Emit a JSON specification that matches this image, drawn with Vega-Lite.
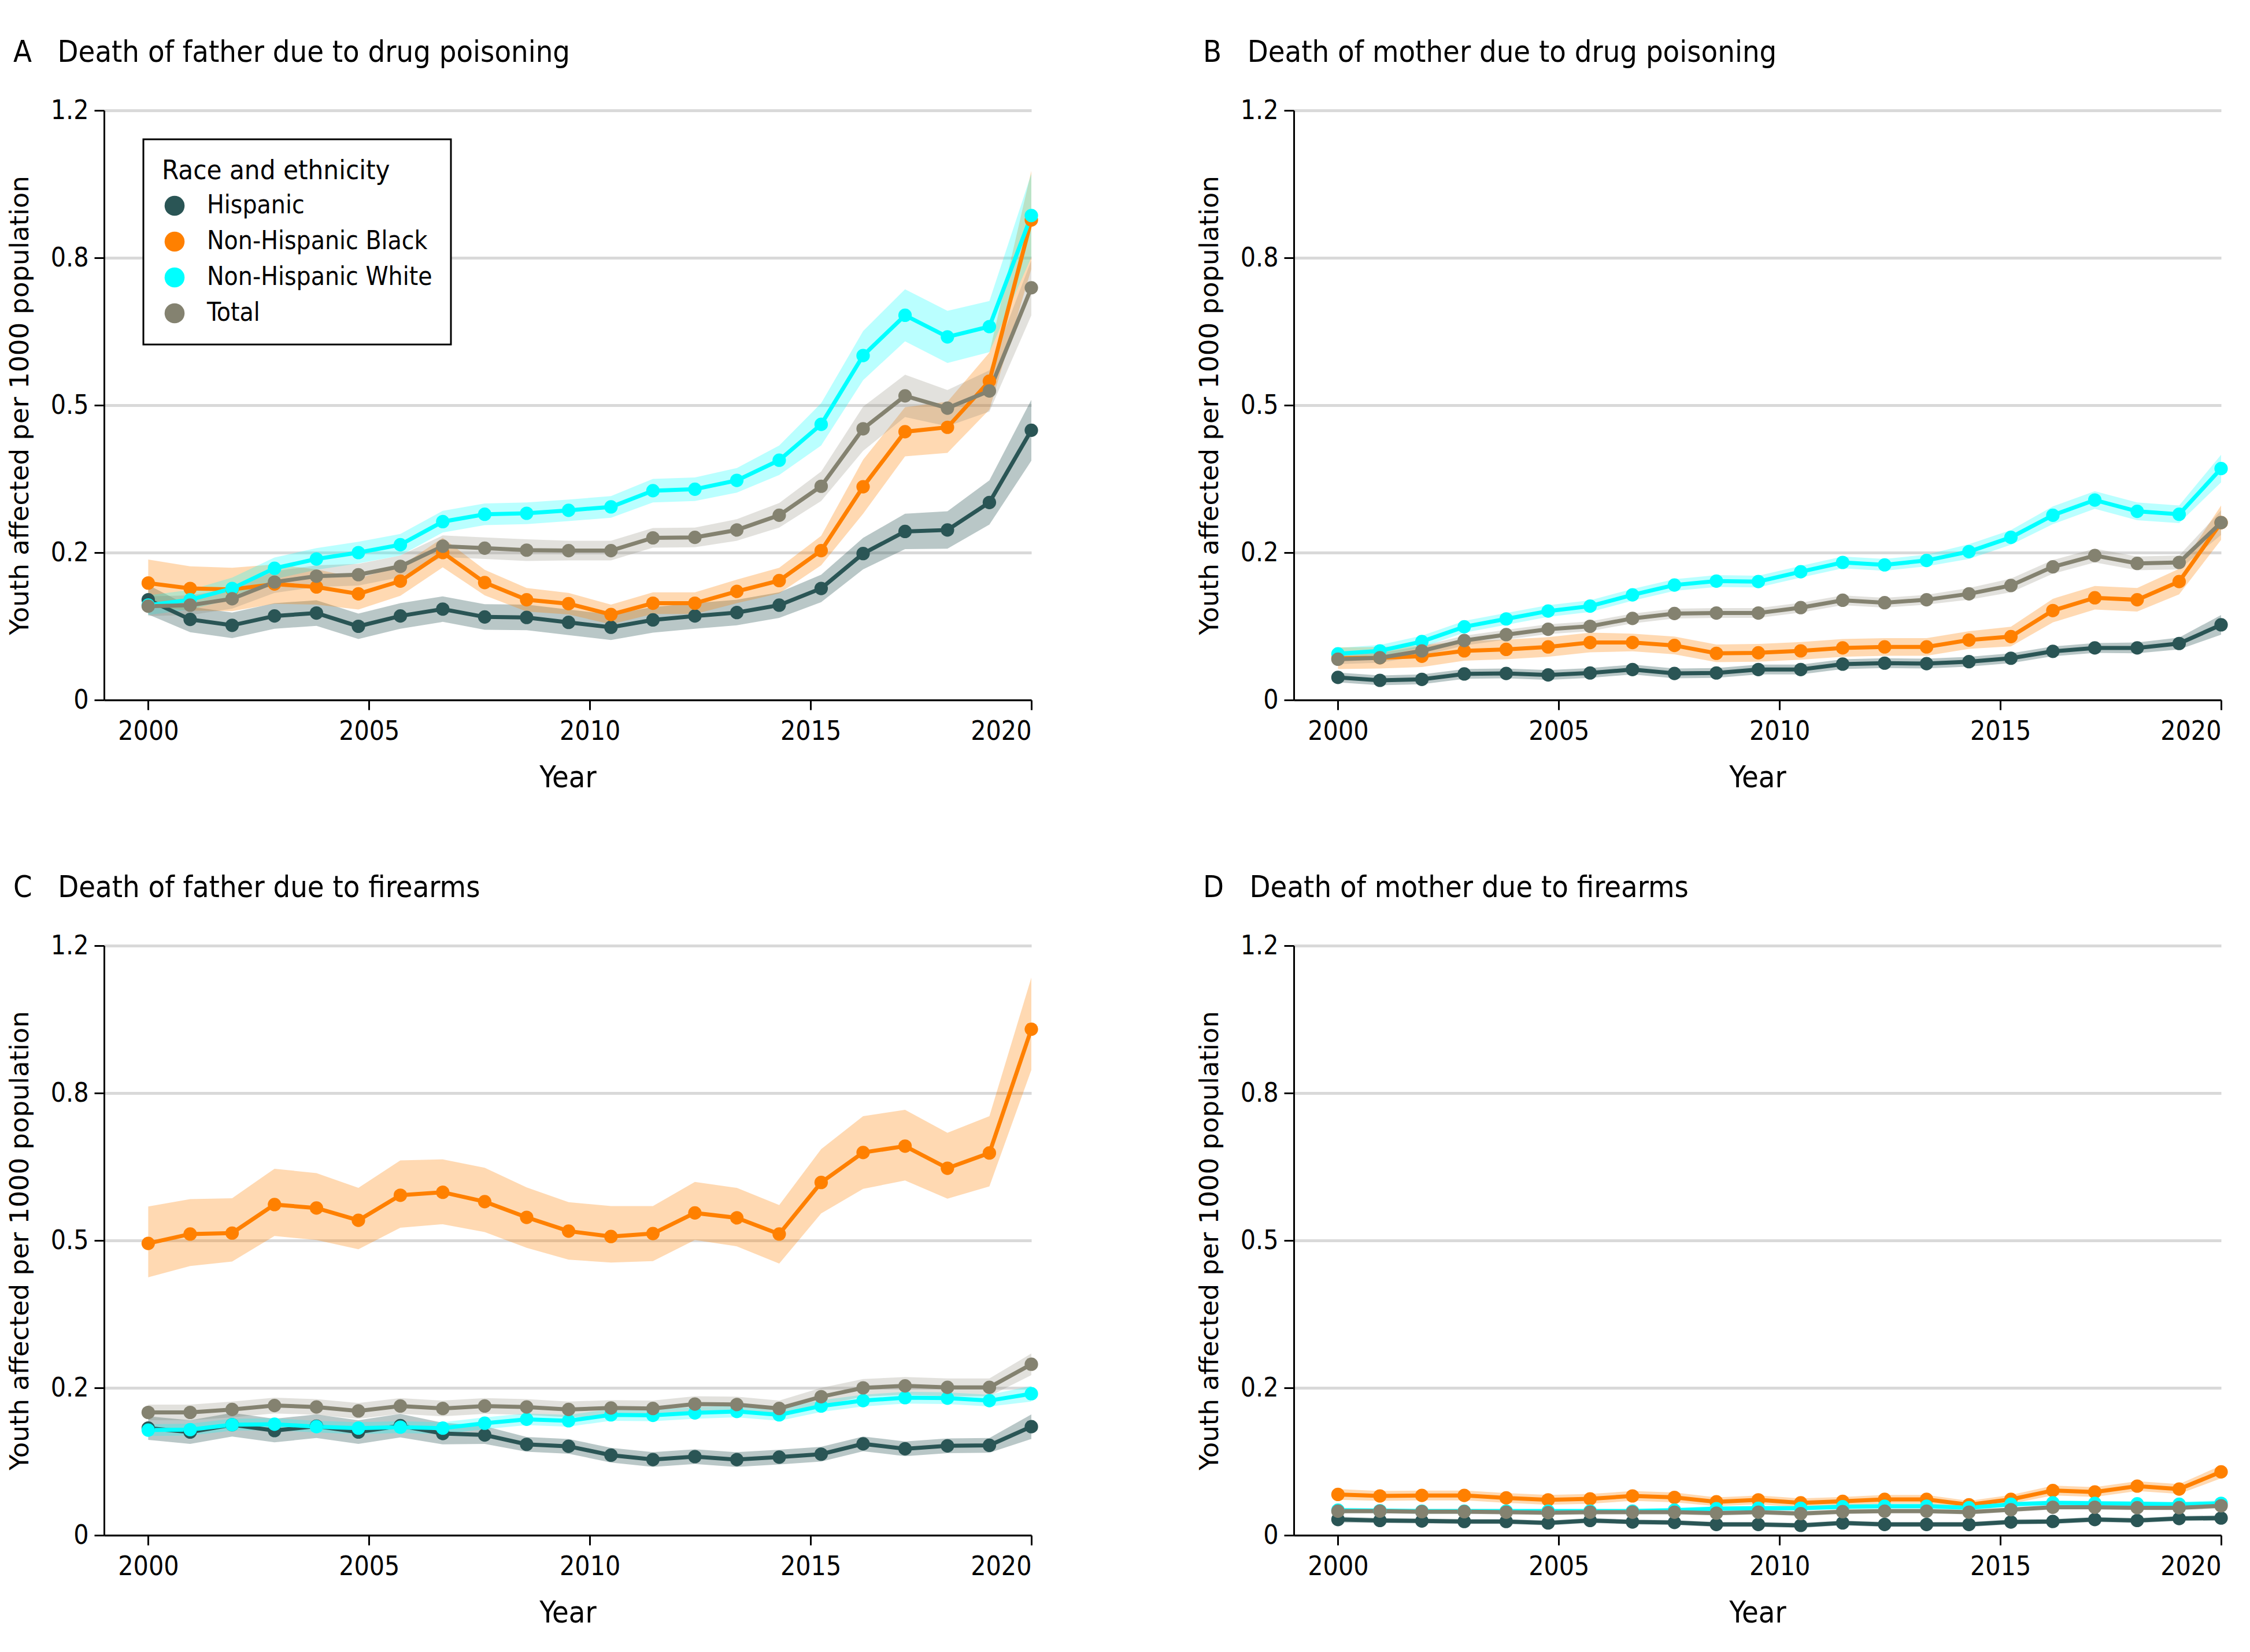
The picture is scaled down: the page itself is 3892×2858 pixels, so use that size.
{
"$schema": "https://vega.github.io/schema/vega-lite/v6.json",
"background": "white",
"padding": {"left": 12, "top": 65, "right": 10, "bottom": 10},
"config": {
 "font": "DejaVu Sans Condensed, Liberation Sans Narrow, sans-serif",
 "view": {"stroke": null},
 "legend": {"strokeWidth": 3},
 "axis": {"domainColor": "black", "domainWidth": 3, "tickColor": "black", "tickWidth": 3, "tickSize": 17, "labelFontSize": 46, "labelColor": "black", "labelPadding": 15, "titleColor": "black", "titleFontWeight": "normal", "gridColor": "#d9d9d9", "gridWidth": 5},
 "title": {"fontSize": 52, "fontWeight": "normal", "color": "black", "anchor": "start", "frame": "group"}
},
"data": {"values": [
{"p":"A","g":"Hispanic","x":2000,"v":0.204,"lo":0.174,"hi":0.234},
{"p":"A","g":"Hispanic","x":2000.95,"v":0.164,"lo":0.138,"hi":0.190},
{"p":"A","g":"Hispanic","x":2001.9,"v":0.152,"lo":0.126,"hi":0.178},
{"p":"A","g":"Hispanic","x":2002.86,"v":0.171,"lo":0.145,"hi":0.197},
{"p":"A","g":"Hispanic","x":2003.81,"v":0.177,"lo":0.151,"hi":0.203},
{"p":"A","g":"Hispanic","x":2004.76,"v":0.150,"lo":0.124,"hi":0.176},
{"p":"A","g":"Hispanic","x":2005.71,"v":0.171,"lo":0.145,"hi":0.197},
{"p":"A","g":"Hispanic","x":2006.67,"v":0.185,"lo":0.159,"hi":0.211},
{"p":"A","g":"Hispanic","x":2007.62,"v":0.169,"lo":0.143,"hi":0.195},
{"p":"A","g":"Hispanic","x":2008.57,"v":0.168,"lo":0.142,"hi":0.194},
{"p":"A","g":"Hispanic","x":2009.52,"v":0.158,"lo":0.132,"hi":0.184},
{"p":"A","g":"Hispanic","x":2010.48,"v":0.148,"lo":0.122,"hi":0.174},
{"p":"A","g":"Hispanic","x":2011.43,"v":0.163,"lo":0.137,"hi":0.189},
{"p":"A","g":"Hispanic","x":2012.38,"v":0.171,"lo":0.145,"hi":0.197},
{"p":"A","g":"Hispanic","x":2013.33,"v":0.178,"lo":0.152,"hi":0.204},
{"p":"A","g":"Hispanic","x":2014.29,"v":0.193,"lo":0.167,"hi":0.219},
{"p":"A","g":"Hispanic","x":2015.24,"v":0.227,"lo":0.199,"hi":0.255},
{"p":"A","g":"Hispanic","x":2016.19,"v":0.298,"lo":0.266,"hi":0.330},
{"p":"A","g":"Hispanic","x":2017.14,"v":0.343,"lo":0.307,"hi":0.379},
{"p":"A","g":"Hispanic","x":2018.1,"v":0.346,"lo":0.308,"hi":0.384},
{"p":"A","g":"Hispanic","x":2019.05,"v":0.402,"lo":0.357,"hi":0.447},
{"p":"A","g":"Hispanic","x":2020,"v":0.549,"lo":0.487,"hi":0.611},
{"p":"A","g":"Non-Hispanic Black","x":2000,"v":0.238,"lo":0.190,"hi":0.286},
{"p":"A","g":"Non-Hispanic Black","x":2000.95,"v":0.227,"lo":0.182,"hi":0.272},
{"p":"A","g":"Non-Hispanic Black","x":2001.9,"v":0.225,"lo":0.181,"hi":0.269},
{"p":"A","g":"Non-Hispanic Black","x":2002.86,"v":0.236,"lo":0.196,"hi":0.276},
{"p":"A","g":"Non-Hispanic Black","x":2003.81,"v":0.230,"lo":0.194,"hi":0.266},
{"p":"A","g":"Non-Hispanic Black","x":2004.76,"v":0.216,"lo":0.184,"hi":0.248},
{"p":"A","g":"Non-Hispanic Black","x":2005.71,"v":0.242,"lo":0.212,"hi":0.272},
{"p":"A","g":"Non-Hispanic Black","x":2006.67,"v":0.300,"lo":0.270,"hi":0.330},
{"p":"A","g":"Non-Hispanic Black","x":2007.62,"v":0.239,"lo":0.213,"hi":0.265},
{"p":"A","g":"Non-Hispanic Black","x":2008.57,"v":0.204,"lo":0.180,"hi":0.228},
{"p":"A","g":"Non-Hispanic Black","x":2009.52,"v":0.196,"lo":0.174,"hi":0.218},
{"p":"A","g":"Non-Hispanic Black","x":2010.48,"v":0.174,"lo":0.154,"hi":0.194},
{"p":"A","g":"Non-Hispanic Black","x":2011.43,"v":0.197,"lo":0.175,"hi":0.219},
{"p":"A","g":"Non-Hispanic Black","x":2012.38,"v":0.197,"lo":0.175,"hi":0.219},
{"p":"A","g":"Non-Hispanic Black","x":2013.33,"v":0.221,"lo":0.197,"hi":0.245},
{"p":"A","g":"Non-Hispanic Black","x":2014.29,"v":0.243,"lo":0.217,"hi":0.269},
{"p":"A","g":"Non-Hispanic Black","x":2015.24,"v":0.304,"lo":0.274,"hi":0.334},
{"p":"A","g":"Non-Hispanic Black","x":2016.19,"v":0.434,"lo":0.379,"hi":0.489},
{"p":"A","g":"Non-Hispanic Black","x":2017.14,"v":0.546,"lo":0.496,"hi":0.596},
{"p":"A","g":"Non-Hispanic Black","x":2018.1,"v":0.555,"lo":0.503,"hi":0.607},
{"p":"A","g":"Non-Hispanic Black","x":2019.05,"v":0.649,"lo":0.591,"hi":0.707},
{"p":"A","g":"Non-Hispanic Black","x":2020,"v":0.977,"lo":0.877,"hi":1.077},
{"p":"A","g":"Non-Hispanic White","x":2000,"v":0.193,"lo":0.173,"hi":0.213},
{"p":"A","g":"Non-Hispanic White","x":2000.95,"v":0.204,"lo":0.184,"hi":0.224},
{"p":"A","g":"Non-Hispanic White","x":2001.9,"v":0.227,"lo":0.205,"hi":0.249},
{"p":"A","g":"Non-Hispanic White","x":2002.86,"v":0.268,"lo":0.246,"hi":0.290},
{"p":"A","g":"Non-Hispanic White","x":2003.81,"v":0.287,"lo":0.265,"hi":0.309},
{"p":"A","g":"Non-Hispanic White","x":2004.76,"v":0.300,"lo":0.278,"hi":0.322},
{"p":"A","g":"Non-Hispanic White","x":2005.71,"v":0.316,"lo":0.294,"hi":0.338},
{"p":"A","g":"Non-Hispanic White","x":2006.67,"v":0.363,"lo":0.341,"hi":0.385},
{"p":"A","g":"Non-Hispanic White","x":2007.62,"v":0.378,"lo":0.356,"hi":0.400},
{"p":"A","g":"Non-Hispanic White","x":2008.57,"v":0.380,"lo":0.358,"hi":0.402},
{"p":"A","g":"Non-Hispanic White","x":2009.52,"v":0.386,"lo":0.364,"hi":0.408},
{"p":"A","g":"Non-Hispanic White","x":2010.48,"v":0.393,"lo":0.371,"hi":0.415},
{"p":"A","g":"Non-Hispanic White","x":2011.43,"v":0.426,"lo":0.402,"hi":0.450},
{"p":"A","g":"Non-Hispanic White","x":2012.38,"v":0.429,"lo":0.405,"hi":0.453},
{"p":"A","g":"Non-Hispanic White","x":2013.33,"v":0.447,"lo":0.422,"hi":0.472},
{"p":"A","g":"Non-Hispanic White","x":2014.29,"v":0.488,"lo":0.458,"hi":0.518},
{"p":"A","g":"Non-Hispanic White","x":2015.24,"v":0.561,"lo":0.518,"hi":0.604},
{"p":"A","g":"Non-Hispanic White","x":2016.19,"v":0.701,"lo":0.651,"hi":0.751},
{"p":"A","g":"Non-Hispanic White","x":2017.14,"v":0.783,"lo":0.730,"hi":0.836},
{"p":"A","g":"Non-Hispanic White","x":2018.1,"v":0.739,"lo":0.686,"hi":0.792},
{"p":"A","g":"Non-Hispanic White","x":2019.05,"v":0.760,"lo":0.708,"hi":0.812},
{"p":"A","g":"Non-Hispanic White","x":2020,"v":0.986,"lo":0.901,"hi":1.071},
{"p":"A","g":"Total","x":2000,"v":0.191,"lo":0.171,"hi":0.211},
{"p":"A","g":"Total","x":2000.95,"v":0.193,"lo":0.173,"hi":0.213},
{"p":"A","g":"Total","x":2001.9,"v":0.206,"lo":0.186,"hi":0.226},
{"p":"A","g":"Total","x":2002.86,"v":0.240,"lo":0.218,"hi":0.262},
{"p":"A","g":"Total","x":2003.81,"v":0.252,"lo":0.230,"hi":0.274},
{"p":"A","g":"Total","x":2004.76,"v":0.255,"lo":0.233,"hi":0.277},
{"p":"A","g":"Total","x":2005.71,"v":0.272,"lo":0.250,"hi":0.294},
{"p":"A","g":"Total","x":2006.67,"v":0.313,"lo":0.291,"hi":0.335},
{"p":"A","g":"Total","x":2007.62,"v":0.309,"lo":0.287,"hi":0.331},
{"p":"A","g":"Total","x":2008.57,"v":0.305,"lo":0.283,"hi":0.327},
{"p":"A","g":"Total","x":2009.52,"v":0.304,"lo":0.284,"hi":0.324},
{"p":"A","g":"Total","x":2010.48,"v":0.304,"lo":0.284,"hi":0.324},
{"p":"A","g":"Total","x":2011.43,"v":0.330,"lo":0.310,"hi":0.350},
{"p":"A","g":"Total","x":2012.38,"v":0.331,"lo":0.311,"hi":0.351},
{"p":"A","g":"Total","x":2013.33,"v":0.346,"lo":0.324,"hi":0.368},
{"p":"A","g":"Total","x":2014.29,"v":0.376,"lo":0.351,"hi":0.401},
{"p":"A","g":"Total","x":2015.24,"v":0.435,"lo":0.405,"hi":0.465},
{"p":"A","g":"Total","x":2016.19,"v":0.552,"lo":0.507,"hi":0.597},
{"p":"A","g":"Total","x":2017.14,"v":0.619,"lo":0.576,"hi":0.662},
{"p":"A","g":"Total","x":2018.1,"v":0.594,"lo":0.557,"hi":0.631},
{"p":"A","g":"Total","x":2019.05,"v":0.629,"lo":0.587,"hi":0.671},
{"p":"A","g":"Total","x":2020,"v":0.839,"lo":0.783,"hi":0.895},
{"p":"B","g":"Hispanic","x":2000,"v":0.046,"lo":0.036,"hi":0.056},
{"p":"B","g":"Hispanic","x":2000.95,"v":0.040,"lo":0.030,"hi":0.050},
{"p":"B","g":"Hispanic","x":2001.9,"v":0.042,"lo":0.032,"hi":0.052},
{"p":"B","g":"Hispanic","x":2002.86,"v":0.053,"lo":0.043,"hi":0.063},
{"p":"B","g":"Hispanic","x":2003.81,"v":0.054,"lo":0.044,"hi":0.064},
{"p":"B","g":"Hispanic","x":2004.76,"v":0.051,"lo":0.041,"hi":0.061},
{"p":"B","g":"Hispanic","x":2005.71,"v":0.055,"lo":0.045,"hi":0.065},
{"p":"B","g":"Hispanic","x":2006.67,"v":0.062,"lo":0.052,"hi":0.072},
{"p":"B","g":"Hispanic","x":2007.62,"v":0.054,"lo":0.044,"hi":0.064},
{"p":"B","g":"Hispanic","x":2008.57,"v":0.055,"lo":0.045,"hi":0.065},
{"p":"B","g":"Hispanic","x":2009.52,"v":0.062,"lo":0.052,"hi":0.072},
{"p":"B","g":"Hispanic","x":2010.48,"v":0.062,"lo":0.052,"hi":0.072},
{"p":"B","g":"Hispanic","x":2011.43,"v":0.073,"lo":0.063,"hi":0.083},
{"p":"B","g":"Hispanic","x":2012.38,"v":0.075,"lo":0.065,"hi":0.085},
{"p":"B","g":"Hispanic","x":2013.33,"v":0.074,"lo":0.064,"hi":0.084},
{"p":"B","g":"Hispanic","x":2014.29,"v":0.078,"lo":0.068,"hi":0.088},
{"p":"B","g":"Hispanic","x":2015.24,"v":0.085,"lo":0.075,"hi":0.095},
{"p":"B","g":"Hispanic","x":2016.19,"v":0.099,"lo":0.089,"hi":0.109},
{"p":"B","g":"Hispanic","x":2017.14,"v":0.106,"lo":0.096,"hi":0.116},
{"p":"B","g":"Hispanic","x":2018.1,"v":0.106,"lo":0.095,"hi":0.117},
{"p":"B","g":"Hispanic","x":2019.05,"v":0.115,"lo":0.103,"hi":0.127},
{"p":"B","g":"Hispanic","x":2020,"v":0.153,"lo":0.133,"hi":0.173},
{"p":"B","g":"Non-Hispanic Black","x":2000,"v":0.085,"lo":0.063,"hi":0.107},
{"p":"B","g":"Non-Hispanic Black","x":2000.95,"v":0.086,"lo":0.064,"hi":0.108},
{"p":"B","g":"Non-Hispanic Black","x":2001.9,"v":0.089,"lo":0.067,"hi":0.111},
{"p":"B","g":"Non-Hispanic Black","x":2002.86,"v":0.100,"lo":0.080,"hi":0.120},
{"p":"B","g":"Non-Hispanic Black","x":2003.81,"v":0.103,"lo":0.083,"hi":0.123},
{"p":"B","g":"Non-Hispanic Black","x":2004.76,"v":0.108,"lo":0.088,"hi":0.128},
{"p":"B","g":"Non-Hispanic Black","x":2005.71,"v":0.117,"lo":0.097,"hi":0.137},
{"p":"B","g":"Non-Hispanic Black","x":2006.67,"v":0.117,"lo":0.099,"hi":0.135},
{"p":"B","g":"Non-Hispanic Black","x":2007.62,"v":0.111,"lo":0.093,"hi":0.129},
{"p":"B","g":"Non-Hispanic Black","x":2008.57,"v":0.095,"lo":0.077,"hi":0.113},
{"p":"B","g":"Non-Hispanic Black","x":2009.52,"v":0.096,"lo":0.078,"hi":0.114},
{"p":"B","g":"Non-Hispanic Black","x":2010.48,"v":0.100,"lo":0.082,"hi":0.118},
{"p":"B","g":"Non-Hispanic Black","x":2011.43,"v":0.106,"lo":0.088,"hi":0.124},
{"p":"B","g":"Non-Hispanic Black","x":2012.38,"v":0.108,"lo":0.090,"hi":0.126},
{"p":"B","g":"Non-Hispanic Black","x":2013.33,"v":0.108,"lo":0.090,"hi":0.126},
{"p":"B","g":"Non-Hispanic Black","x":2014.29,"v":0.122,"lo":0.104,"hi":0.140},
{"p":"B","g":"Non-Hispanic Black","x":2015.24,"v":0.129,"lo":0.109,"hi":0.149},
{"p":"B","g":"Non-Hispanic Black","x":2016.19,"v":0.182,"lo":0.158,"hi":0.206},
{"p":"B","g":"Non-Hispanic Black","x":2017.14,"v":0.208,"lo":0.184,"hi":0.232},
{"p":"B","g":"Non-Hispanic Black","x":2018.1,"v":0.204,"lo":0.180,"hi":0.228},
{"p":"B","g":"Non-Hispanic Black","x":2019.05,"v":0.241,"lo":0.215,"hi":0.267},
{"p":"B","g":"Non-Hispanic Black","x":2020,"v":0.361,"lo":0.326,"hi":0.396},
{"p":"B","g":"Non-Hispanic White","x":2000,"v":0.094,"lo":0.082,"hi":0.106},
{"p":"B","g":"Non-Hispanic White","x":2000.95,"v":0.100,"lo":0.088,"hi":0.112},
{"p":"B","g":"Non-Hispanic White","x":2001.9,"v":0.119,"lo":0.107,"hi":0.131},
{"p":"B","g":"Non-Hispanic White","x":2002.86,"v":0.149,"lo":0.137,"hi":0.161},
{"p":"B","g":"Non-Hispanic White","x":2003.81,"v":0.165,"lo":0.153,"hi":0.177},
{"p":"B","g":"Non-Hispanic White","x":2004.76,"v":0.181,"lo":0.169,"hi":0.193},
{"p":"B","g":"Non-Hispanic White","x":2005.71,"v":0.191,"lo":0.179,"hi":0.203},
{"p":"B","g":"Non-Hispanic White","x":2006.67,"v":0.214,"lo":0.202,"hi":0.226},
{"p":"B","g":"Non-Hispanic White","x":2007.62,"v":0.234,"lo":0.222,"hi":0.246},
{"p":"B","g":"Non-Hispanic White","x":2008.57,"v":0.242,"lo":0.230,"hi":0.254},
{"p":"B","g":"Non-Hispanic White","x":2009.52,"v":0.241,"lo":0.229,"hi":0.253},
{"p":"B","g":"Non-Hispanic White","x":2010.48,"v":0.261,"lo":0.249,"hi":0.273},
{"p":"B","g":"Non-Hispanic White","x":2011.43,"v":0.280,"lo":0.268,"hi":0.292},
{"p":"B","g":"Non-Hispanic White","x":2012.38,"v":0.275,"lo":0.263,"hi":0.287},
{"p":"B","g":"Non-Hispanic White","x":2013.33,"v":0.284,"lo":0.272,"hi":0.296},
{"p":"B","g":"Non-Hispanic White","x":2014.29,"v":0.302,"lo":0.287,"hi":0.317},
{"p":"B","g":"Non-Hispanic White","x":2015.24,"v":0.331,"lo":0.316,"hi":0.346},
{"p":"B","g":"Non-Hispanic White","x":2016.19,"v":0.376,"lo":0.358,"hi":0.394},
{"p":"B","g":"Non-Hispanic White","x":2017.14,"v":0.407,"lo":0.389,"hi":0.425},
{"p":"B","g":"Non-Hispanic White","x":2018.1,"v":0.384,"lo":0.366,"hi":0.402},
{"p":"B","g":"Non-Hispanic White","x":2019.05,"v":0.378,"lo":0.360,"hi":0.396},
{"p":"B","g":"Non-Hispanic White","x":2020,"v":0.471,"lo":0.443,"hi":0.499},
{"p":"B","g":"Total","x":2000,"v":0.083,"lo":0.073,"hi":0.093},
{"p":"B","g":"Total","x":2000.95,"v":0.086,"lo":0.076,"hi":0.096},
{"p":"B","g":"Total","x":2001.9,"v":0.100,"lo":0.090,"hi":0.110},
{"p":"B","g":"Total","x":2002.86,"v":0.121,"lo":0.111,"hi":0.131},
{"p":"B","g":"Total","x":2003.81,"v":0.133,"lo":0.123,"hi":0.143},
{"p":"B","g":"Total","x":2004.76,"v":0.144,"lo":0.134,"hi":0.154},
{"p":"B","g":"Total","x":2005.71,"v":0.150,"lo":0.140,"hi":0.160},
{"p":"B","g":"Total","x":2006.67,"v":0.166,"lo":0.156,"hi":0.176},
{"p":"B","g":"Total","x":2007.62,"v":0.176,"lo":0.166,"hi":0.186},
{"p":"B","g":"Total","x":2008.57,"v":0.177,"lo":0.167,"hi":0.187},
{"p":"B","g":"Total","x":2009.52,"v":0.177,"lo":0.167,"hi":0.187},
{"p":"B","g":"Total","x":2010.48,"v":0.188,"lo":0.178,"hi":0.198},
{"p":"B","g":"Total","x":2011.43,"v":0.203,"lo":0.193,"hi":0.213},
{"p":"B","g":"Total","x":2012.38,"v":0.198,"lo":0.188,"hi":0.208},
{"p":"B","g":"Total","x":2013.33,"v":0.204,"lo":0.194,"hi":0.214},
{"p":"B","g":"Total","x":2014.29,"v":0.216,"lo":0.204,"hi":0.228},
{"p":"B","g":"Total","x":2015.24,"v":0.233,"lo":0.219,"hi":0.247},
{"p":"B","g":"Total","x":2016.19,"v":0.271,"lo":0.257,"hi":0.285},
{"p":"B","g":"Total","x":2017.14,"v":0.294,"lo":0.280,"hi":0.308},
{"p":"B","g":"Total","x":2018.1,"v":0.278,"lo":0.264,"hi":0.292},
{"p":"B","g":"Total","x":2019.05,"v":0.280,"lo":0.266,"hi":0.294},
{"p":"B","g":"Total","x":2020,"v":0.361,"lo":0.336,"hi":0.386},
{"p":"C","g":"Hispanic","x":2000,"v":0.218,"lo":0.194,"hi":0.242},
{"p":"C","g":"Hispanic","x":2000.95,"v":0.210,"lo":0.186,"hi":0.234},
{"p":"C","g":"Hispanic","x":2001.9,"v":0.225,"lo":0.201,"hi":0.249},
{"p":"C","g":"Hispanic","x":2002.86,"v":0.213,"lo":0.189,"hi":0.237},
{"p":"C","g":"Hispanic","x":2003.81,"v":0.222,"lo":0.198,"hi":0.246},
{"p":"C","g":"Hispanic","x":2004.76,"v":0.210,"lo":0.186,"hi":0.234},
{"p":"C","g":"Hispanic","x":2005.71,"v":0.223,"lo":0.199,"hi":0.247},
{"p":"C","g":"Hispanic","x":2006.67,"v":0.207,"lo":0.185,"hi":0.229},
{"p":"C","g":"Hispanic","x":2007.62,"v":0.204,"lo":0.186,"hi":0.222},
{"p":"C","g":"Hispanic","x":2008.57,"v":0.185,"lo":0.170,"hi":0.200},
{"p":"C","g":"Hispanic","x":2009.52,"v":0.181,"lo":0.166,"hi":0.196},
{"p":"C","g":"Hispanic","x":2010.48,"v":0.163,"lo":0.148,"hi":0.178},
{"p":"C","g":"Hispanic","x":2011.43,"v":0.154,"lo":0.139,"hi":0.169},
{"p":"C","g":"Hispanic","x":2012.38,"v":0.160,"lo":0.145,"hi":0.175},
{"p":"C","g":"Hispanic","x":2013.33,"v":0.154,"lo":0.139,"hi":0.169},
{"p":"C","g":"Hispanic","x":2014.29,"v":0.159,"lo":0.144,"hi":0.174},
{"p":"C","g":"Hispanic","x":2015.24,"v":0.165,"lo":0.150,"hi":0.180},
{"p":"C","g":"Hispanic","x":2016.19,"v":0.186,"lo":0.171,"hi":0.201},
{"p":"C","g":"Hispanic","x":2017.14,"v":0.176,"lo":0.161,"hi":0.191},
{"p":"C","g":"Hispanic","x":2018.1,"v":0.182,"lo":0.167,"hi":0.197},
{"p":"C","g":"Hispanic","x":2019.05,"v":0.183,"lo":0.168,"hi":0.198},
{"p":"C","g":"Hispanic","x":2020,"v":0.221,"lo":0.196,"hi":0.246},
{"p":"C","g":"Non-Hispanic Black","x":2000,"v":0.594,"lo":0.525,"hi":0.669},
{"p":"C","g":"Non-Hispanic Black","x":2000.95,"v":0.613,"lo":0.548,"hi":0.684},
{"p":"C","g":"Non-Hispanic Black","x":2001.9,"v":0.615,"lo":0.557,"hi":0.686},
{"p":"C","g":"Non-Hispanic Black","x":2002.86,"v":0.673,"lo":0.609,"hi":0.746},
{"p":"C","g":"Non-Hispanic Black","x":2003.81,"v":0.666,"lo":0.601,"hi":0.737},
{"p":"C","g":"Non-Hispanic Black","x":2004.76,"v":0.641,"lo":0.582,"hi":0.707},
{"p":"C","g":"Non-Hispanic Black","x":2005.71,"v":0.692,"lo":0.626,"hi":0.763},
{"p":"C","g":"Non-Hispanic Black","x":2006.67,"v":0.698,"lo":0.633,"hi":0.765},
{"p":"C","g":"Non-Hispanic Black","x":2007.62,"v":0.679,"lo":0.617,"hi":0.748},
{"p":"C","g":"Non-Hispanic Black","x":2008.57,"v":0.647,"lo":0.585,"hi":0.708},
{"p":"C","g":"Non-Hispanic Black","x":2009.52,"v":0.619,"lo":0.561,"hi":0.678},
{"p":"C","g":"Non-Hispanic Black","x":2010.48,"v":0.608,"lo":0.555,"hi":0.670},
{"p":"C","g":"Non-Hispanic Black","x":2011.43,"v":0.614,"lo":0.558,"hi":0.670},
{"p":"C","g":"Non-Hispanic Black","x":2012.38,"v":0.656,"lo":0.601,"hi":0.719},
{"p":"C","g":"Non-Hispanic Black","x":2013.33,"v":0.646,"lo":0.588,"hi":0.707},
{"p":"C","g":"Non-Hispanic Black","x":2014.29,"v":0.613,"lo":0.553,"hi":0.672},
{"p":"C","g":"Non-Hispanic Black","x":2015.24,"v":0.718,"lo":0.655,"hi":0.786},
{"p":"C","g":"Non-Hispanic Black","x":2016.19,"v":0.779,"lo":0.705,"hi":0.853},
{"p":"C","g":"Non-Hispanic Black","x":2017.14,"v":0.792,"lo":0.722,"hi":0.866},
{"p":"C","g":"Non-Hispanic Black","x":2018.1,"v":0.747,"lo":0.685,"hi":0.819},
{"p":"C","g":"Non-Hispanic Black","x":2019.05,"v":0.778,"lo":0.710,"hi":0.853},
{"p":"C","g":"Non-Hispanic Black","x":2020,"v":1.030,"lo":0.947,"hi":1.135},
{"p":"C","g":"Non-Hispanic White","x":2000,"v":0.214,"lo":0.202,"hi":0.226},
{"p":"C","g":"Non-Hispanic White","x":2000.95,"v":0.215,"lo":0.203,"hi":0.227},
{"p":"C","g":"Non-Hispanic White","x":2001.9,"v":0.225,"lo":0.213,"hi":0.237},
{"p":"C","g":"Non-Hispanic White","x":2002.86,"v":0.226,"lo":0.214,"hi":0.238},
{"p":"C","g":"Non-Hispanic White","x":2003.81,"v":0.221,"lo":0.209,"hi":0.233},
{"p":"C","g":"Non-Hispanic White","x":2004.76,"v":0.218,"lo":0.206,"hi":0.230},
{"p":"C","g":"Non-Hispanic White","x":2005.71,"v":0.220,"lo":0.208,"hi":0.232},
{"p":"C","g":"Non-Hispanic White","x":2006.67,"v":0.218,"lo":0.206,"hi":0.230},
{"p":"C","g":"Non-Hispanic White","x":2007.62,"v":0.228,"lo":0.216,"hi":0.240},
{"p":"C","g":"Non-Hispanic White","x":2008.57,"v":0.236,"lo":0.224,"hi":0.248},
{"p":"C","g":"Non-Hispanic White","x":2009.52,"v":0.233,"lo":0.221,"hi":0.245},
{"p":"C","g":"Non-Hispanic White","x":2010.48,"v":0.245,"lo":0.233,"hi":0.257},
{"p":"C","g":"Non-Hispanic White","x":2011.43,"v":0.244,"lo":0.232,"hi":0.256},
{"p":"C","g":"Non-Hispanic White","x":2012.38,"v":0.249,"lo":0.237,"hi":0.261},
{"p":"C","g":"Non-Hispanic White","x":2013.33,"v":0.252,"lo":0.240,"hi":0.264},
{"p":"C","g":"Non-Hispanic White","x":2014.29,"v":0.245,"lo":0.233,"hi":0.257},
{"p":"C","g":"Non-Hispanic White","x":2015.24,"v":0.263,"lo":0.251,"hi":0.275},
{"p":"C","g":"Non-Hispanic White","x":2016.19,"v":0.274,"lo":0.262,"hi":0.286},
{"p":"C","g":"Non-Hispanic White","x":2017.14,"v":0.280,"lo":0.268,"hi":0.292},
{"p":"C","g":"Non-Hispanic White","x":2018.1,"v":0.279,"lo":0.267,"hi":0.291},
{"p":"C","g":"Non-Hispanic White","x":2019.05,"v":0.274,"lo":0.262,"hi":0.286},
{"p":"C","g":"Non-Hispanic White","x":2020,"v":0.288,"lo":0.272,"hi":0.304},
{"p":"C","g":"Total","x":2000,"v":0.250,"lo":0.234,"hi":0.266},
{"p":"C","g":"Total","x":2000.95,"v":0.250,"lo":0.234,"hi":0.266},
{"p":"C","g":"Total","x":2001.9,"v":0.256,"lo":0.240,"hi":0.272},
{"p":"C","g":"Total","x":2002.86,"v":0.264,"lo":0.248,"hi":0.280},
{"p":"C","g":"Total","x":2003.81,"v":0.261,"lo":0.245,"hi":0.277},
{"p":"C","g":"Total","x":2004.76,"v":0.253,"lo":0.237,"hi":0.269},
{"p":"C","g":"Total","x":2005.71,"v":0.263,"lo":0.247,"hi":0.279},
{"p":"C","g":"Total","x":2006.67,"v":0.258,"lo":0.242,"hi":0.274},
{"p":"C","g":"Total","x":2007.62,"v":0.263,"lo":0.247,"hi":0.279},
{"p":"C","g":"Total","x":2008.57,"v":0.261,"lo":0.245,"hi":0.277},
{"p":"C","g":"Total","x":2009.52,"v":0.256,"lo":0.240,"hi":0.272},
{"p":"C","g":"Total","x":2010.48,"v":0.259,"lo":0.243,"hi":0.275},
{"p":"C","g":"Total","x":2011.43,"v":0.258,"lo":0.242,"hi":0.274},
{"p":"C","g":"Total","x":2012.38,"v":0.267,"lo":0.251,"hi":0.283},
{"p":"C","g":"Total","x":2013.33,"v":0.266,"lo":0.250,"hi":0.282},
{"p":"C","g":"Total","x":2014.29,"v":0.258,"lo":0.242,"hi":0.274},
{"p":"C","g":"Total","x":2015.24,"v":0.282,"lo":0.264,"hi":0.300},
{"p":"C","g":"Total","x":2016.19,"v":0.300,"lo":0.282,"hi":0.318},
{"p":"C","g":"Total","x":2017.14,"v":0.304,"lo":0.286,"hi":0.322},
{"p":"C","g":"Total","x":2018.1,"v":0.301,"lo":0.283,"hi":0.319},
{"p":"C","g":"Total","x":2019.05,"v":0.301,"lo":0.283,"hi":0.319},
{"p":"C","g":"Total","x":2020,"v":0.348,"lo":0.326,"hi":0.370},
{"p":"D","g":"Hispanic","x":2000,"v":0.032,"lo":0.026,"hi":0.038},
{"p":"D","g":"Hispanic","x":2000.95,"v":0.030,"lo":0.025,"hi":0.035},
{"p":"D","g":"Hispanic","x":2001.9,"v":0.029,"lo":0.024,"hi":0.034},
{"p":"D","g":"Hispanic","x":2002.86,"v":0.028,"lo":0.023,"hi":0.033},
{"p":"D","g":"Hispanic","x":2003.81,"v":0.028,"lo":0.023,"hi":0.033},
{"p":"D","g":"Hispanic","x":2004.76,"v":0.025,"lo":0.020,"hi":0.030},
{"p":"D","g":"Hispanic","x":2005.71,"v":0.030,"lo":0.025,"hi":0.035},
{"p":"D","g":"Hispanic","x":2006.67,"v":0.027,"lo":0.022,"hi":0.032},
{"p":"D","g":"Hispanic","x":2007.62,"v":0.026,"lo":0.021,"hi":0.031},
{"p":"D","g":"Hispanic","x":2008.57,"v":0.022,"lo":0.017,"hi":0.027},
{"p":"D","g":"Hispanic","x":2009.52,"v":0.022,"lo":0.017,"hi":0.027},
{"p":"D","g":"Hispanic","x":2010.48,"v":0.020,"lo":0.015,"hi":0.025},
{"p":"D","g":"Hispanic","x":2011.43,"v":0.025,"lo":0.020,"hi":0.030},
{"p":"D","g":"Hispanic","x":2012.38,"v":0.022,"lo":0.017,"hi":0.027},
{"p":"D","g":"Hispanic","x":2013.33,"v":0.022,"lo":0.017,"hi":0.027},
{"p":"D","g":"Hispanic","x":2014.29,"v":0.022,"lo":0.017,"hi":0.027},
{"p":"D","g":"Hispanic","x":2015.24,"v":0.027,"lo":0.022,"hi":0.032},
{"p":"D","g":"Hispanic","x":2016.19,"v":0.028,"lo":0.023,"hi":0.033},
{"p":"D","g":"Hispanic","x":2017.14,"v":0.032,"lo":0.027,"hi":0.037},
{"p":"D","g":"Hispanic","x":2018.1,"v":0.030,"lo":0.025,"hi":0.035},
{"p":"D","g":"Hispanic","x":2019.05,"v":0.034,"lo":0.029,"hi":0.039},
{"p":"D","g":"Hispanic","x":2020,"v":0.035,"lo":0.029,"hi":0.041},
{"p":"D","g":"Non-Hispanic Black","x":2000,"v":0.083,"lo":0.072,"hi":0.094},
{"p":"D","g":"Non-Hispanic Black","x":2000.95,"v":0.080,"lo":0.070,"hi":0.090},
{"p":"D","g":"Non-Hispanic Black","x":2001.9,"v":0.081,"lo":0.071,"hi":0.091},
{"p":"D","g":"Non-Hispanic Black","x":2002.86,"v":0.081,"lo":0.071,"hi":0.091},
{"p":"D","g":"Non-Hispanic Black","x":2003.81,"v":0.076,"lo":0.066,"hi":0.086},
{"p":"D","g":"Non-Hispanic Black","x":2004.76,"v":0.072,"lo":0.062,"hi":0.082},
{"p":"D","g":"Non-Hispanic Black","x":2005.71,"v":0.074,"lo":0.064,"hi":0.084},
{"p":"D","g":"Non-Hispanic Black","x":2006.67,"v":0.080,"lo":0.070,"hi":0.090},
{"p":"D","g":"Non-Hispanic Black","x":2007.62,"v":0.077,"lo":0.067,"hi":0.087},
{"p":"D","g":"Non-Hispanic Black","x":2008.57,"v":0.068,"lo":0.059,"hi":0.077},
{"p":"D","g":"Non-Hispanic Black","x":2009.52,"v":0.072,"lo":0.063,"hi":0.081},
{"p":"D","g":"Non-Hispanic Black","x":2010.48,"v":0.066,"lo":0.057,"hi":0.075},
{"p":"D","g":"Non-Hispanic Black","x":2011.43,"v":0.069,"lo":0.060,"hi":0.078},
{"p":"D","g":"Non-Hispanic Black","x":2012.38,"v":0.073,"lo":0.064,"hi":0.082},
{"p":"D","g":"Non-Hispanic Black","x":2013.33,"v":0.073,"lo":0.064,"hi":0.082},
{"p":"D","g":"Non-Hispanic Black","x":2014.29,"v":0.062,"lo":0.054,"hi":0.070},
{"p":"D","g":"Non-Hispanic Black","x":2015.24,"v":0.073,"lo":0.064,"hi":0.082},
{"p":"D","g":"Non-Hispanic Black","x":2016.19,"v":0.091,"lo":0.081,"hi":0.101},
{"p":"D","g":"Non-Hispanic Black","x":2017.14,"v":0.088,"lo":0.078,"hi":0.098},
{"p":"D","g":"Non-Hispanic Black","x":2018.1,"v":0.100,"lo":0.090,"hi":0.110},
{"p":"D","g":"Non-Hispanic Black","x":2019.05,"v":0.094,"lo":0.084,"hi":0.104},
{"p":"D","g":"Non-Hispanic Black","x":2020,"v":0.129,"lo":0.116,"hi":0.142},
{"p":"D","g":"Non-Hispanic White","x":2000,"v":0.051,"lo":0.046,"hi":0.056},
{"p":"D","g":"Non-Hispanic White","x":2000.95,"v":0.050,"lo":0.045,"hi":0.055},
{"p":"D","g":"Non-Hispanic White","x":2001.9,"v":0.049,"lo":0.044,"hi":0.054},
{"p":"D","g":"Non-Hispanic White","x":2002.86,"v":0.049,"lo":0.044,"hi":0.054},
{"p":"D","g":"Non-Hispanic White","x":2003.81,"v":0.049,"lo":0.044,"hi":0.054},
{"p":"D","g":"Non-Hispanic White","x":2004.76,"v":0.049,"lo":0.044,"hi":0.054},
{"p":"D","g":"Non-Hispanic White","x":2005.71,"v":0.049,"lo":0.044,"hi":0.054},
{"p":"D","g":"Non-Hispanic White","x":2006.67,"v":0.049,"lo":0.044,"hi":0.054},
{"p":"D","g":"Non-Hispanic White","x":2007.62,"v":0.051,"lo":0.046,"hi":0.056},
{"p":"D","g":"Non-Hispanic White","x":2008.57,"v":0.054,"lo":0.049,"hi":0.059},
{"p":"D","g":"Non-Hispanic White","x":2009.52,"v":0.055,"lo":0.050,"hi":0.060},
{"p":"D","g":"Non-Hispanic White","x":2010.48,"v":0.055,"lo":0.050,"hi":0.060},
{"p":"D","g":"Non-Hispanic White","x":2011.43,"v":0.058,"lo":0.053,"hi":0.063},
{"p":"D","g":"Non-Hispanic White","x":2012.38,"v":0.059,"lo":0.054,"hi":0.064},
{"p":"D","g":"Non-Hispanic White","x":2013.33,"v":0.059,"lo":0.054,"hi":0.064},
{"p":"D","g":"Non-Hispanic White","x":2014.29,"v":0.056,"lo":0.051,"hi":0.061},
{"p":"D","g":"Non-Hispanic White","x":2015.24,"v":0.063,"lo":0.058,"hi":0.068},
{"p":"D","g":"Non-Hispanic White","x":2016.19,"v":0.066,"lo":0.061,"hi":0.071},
{"p":"D","g":"Non-Hispanic White","x":2017.14,"v":0.065,"lo":0.060,"hi":0.070},
{"p":"D","g":"Non-Hispanic White","x":2018.1,"v":0.064,"lo":0.059,"hi":0.069},
{"p":"D","g":"Non-Hispanic White","x":2019.05,"v":0.063,"lo":0.058,"hi":0.068},
{"p":"D","g":"Non-Hispanic White","x":2020,"v":0.065,"lo":0.059,"hi":0.071},
{"p":"D","g":"Total","x":2000,"v":0.049,"lo":0.044,"hi":0.054},
{"p":"D","g":"Total","x":2000.95,"v":0.049,"lo":0.044,"hi":0.054},
{"p":"D","g":"Total","x":2001.9,"v":0.048,"lo":0.043,"hi":0.053},
{"p":"D","g":"Total","x":2002.86,"v":0.048,"lo":0.043,"hi":0.053},
{"p":"D","g":"Total","x":2003.81,"v":0.047,"lo":0.042,"hi":0.052},
{"p":"D","g":"Total","x":2004.76,"v":0.046,"lo":0.041,"hi":0.051},
{"p":"D","g":"Total","x":2005.71,"v":0.047,"lo":0.042,"hi":0.052},
{"p":"D","g":"Total","x":2006.67,"v":0.047,"lo":0.042,"hi":0.052},
{"p":"D","g":"Total","x":2007.62,"v":0.047,"lo":0.042,"hi":0.052},
{"p":"D","g":"Total","x":2008.57,"v":0.045,"lo":0.040,"hi":0.050},
{"p":"D","g":"Total","x":2009.52,"v":0.047,"lo":0.042,"hi":0.052},
{"p":"D","g":"Total","x":2010.48,"v":0.044,"lo":0.039,"hi":0.049},
{"p":"D","g":"Total","x":2011.43,"v":0.048,"lo":0.043,"hi":0.053},
{"p":"D","g":"Total","x":2012.38,"v":0.049,"lo":0.044,"hi":0.054},
{"p":"D","g":"Total","x":2013.33,"v":0.049,"lo":0.044,"hi":0.054},
{"p":"D","g":"Total","x":2014.29,"v":0.047,"lo":0.042,"hi":0.052},
{"p":"D","g":"Total","x":2015.24,"v":0.052,"lo":0.047,"hi":0.057},
{"p":"D","g":"Total","x":2016.19,"v":0.057,"lo":0.052,"hi":0.062},
{"p":"D","g":"Total","x":2017.14,"v":0.057,"lo":0.052,"hi":0.062},
{"p":"D","g":"Total","x":2018.1,"v":0.056,"lo":0.051,"hi":0.061},
{"p":"D","g":"Total","x":2019.05,"v":0.056,"lo":0.051,"hi":0.061},
{"p":"D","g":"Total","x":2020,"v":0.060,"lo":0.054,"hi":0.066}
]},
"columns": 2,
"spacing": {"row": 139, "column": 272},
"resolve": {"legend": {"color": "independent"}},
"concat": [
{
 "width": 1604, "height": 1020,
 "title": {"text": "A\u00a0\u00a0\u00a0Death of father due to drug poisoning", "dx": -157, "offset": 50},
 "transform": [{"filter": "datum.p == 'A'"}],
 "encoding": {"x": {"field": "x", "type": "quantitative", "scale": {"domain": [1999, 2020], "nice": false, "zero": false}, "axis": {"values": [2000, 2005, 2010, 2015, 2020], "format": "d", "grid": false, "title": "Year", "titleFontSize": 52, "titlePadding": 32}}},
 "layer": [
  {"mark": {"type": "area"}, "encoding": {
   "y": {"field": "lo", "type": "quantitative", "scale": {"domain": [0, 1.2], "nice": false}, "axis": {"values": [0, 0.3, 0.6, 0.9, 1.2], "labelExpr": "datum.value == 0 ? '0' : datum.value < 0.45 ? '0.2' : datum.value < 0.75 ? '0.5' : datum.value < 1.05 ? '0.8' : '1.2'", "labelPadding": 10, "title": "Youth affected per 1000 population", "titleFont": "DejaVu Sans", "titleFontSize": 45, "titlePadding": 30, "grid": true}},
   "y2": {"field": "hi"},
   "fill": {"field": "g", "type": "nominal", "scale": {"domain": ["Hispanic", "Non-Hispanic Black", "Non-Hispanic White", "Total"], "range": ["#2a5555", "#ff8000", "#00ffff", "#848270"]}, "legend": null},
   "opacity": {"field": "g", "type": "nominal", "scale": {"domain": ["Hispanic", "Non-Hispanic Black", "Non-Hispanic White", "Total"], "range": [0.33, 0.24, 0.2, 0.3]}, "legend": null}
  }},
  {"mark": {"type": "line", "strokeWidth": 7}, "encoding": {
   "y": {"field": "v", "type": "quantitative"},
   "stroke": {"field": "g", "type": "nominal", "scale": {"domain": ["Hispanic", "Non-Hispanic Black", "Non-Hispanic White", "Total"], "range": ["#2a5555", "#ff8000", "#00ffff", "#848270"]}, "legend": null}
  }},
  {"mark": {"type": "point", "filled": true, "size": 540, "opacity": 1}, "encoding": {
   "y": {"field": "v", "type": "quantitative"},
   "color": {"field": "g", "type": "nominal", "scale": {"domain": ["Hispanic", "Non-Hispanic Black", "Non-Hispanic White", "Total"], "range": ["#2a5555", "#ff8000", "#00ffff", "#848270"]}, "legend": {"title": "Race and ethnicity", "orient": "none", "legendX": 68, "legendY": 50, "strokeColor": "black", "fillColor": "white", "padding": 32, "titleFontSize": 47, "titleFontWeight": "normal", "titleColor": "black", "titleLimit": 2000, "labelLimit": 2000, "labelFontSize": 44, "labelColor": "black", "symbolType": "circle", "symbolSize": 1200, "symbolStrokeWidth": 0, "symbolOpacity": 1, "rowPadding": 18, "labelOffset": 34, "titlePadding": 14}}
  }}
 ]
},
{
 "width": 1604, "height": 1020,
 "title": {"text": "B\u00a0\u00a0\u00a0Death of mother due to drug poisoning", "dx": -157, "offset": 50},
 "transform": [{"filter": "datum.p == 'B'"}],
 "encoding": {"x": {"field": "x", "type": "quantitative", "scale": {"domain": [1999, 2020], "nice": false, "zero": false}, "axis": {"values": [2000, 2005, 2010, 2015, 2020], "format": "d", "grid": false, "title": "Year", "titleFontSize": 52, "titlePadding": 32}}},
 "layer": [
  {"mark": {"type": "area"}, "encoding": {
   "y": {"field": "lo", "type": "quantitative", "scale": {"domain": [0, 1.2], "nice": false}, "axis": {"values": [0, 0.3, 0.6, 0.9, 1.2], "labelExpr": "datum.value == 0 ? '0' : datum.value < 0.45 ? '0.2' : datum.value < 0.75 ? '0.5' : datum.value < 1.05 ? '0.8' : '1.2'", "labelPadding": 10, "title": "Youth affected per 1000 population", "titleFont": "DejaVu Sans", "titleFontSize": 45, "titlePadding": 30, "grid": true}},
   "y2": {"field": "hi"},
   "fill": {"field": "g", "type": "nominal", "scale": {"domain": ["Hispanic", "Non-Hispanic Black", "Non-Hispanic White", "Total"], "range": ["#2a5555", "#ff8000", "#00ffff", "#848270"]}, "legend": null},
   "opacity": {"field": "g", "type": "nominal", "scale": {"domain": ["Hispanic", "Non-Hispanic Black", "Non-Hispanic White", "Total"], "range": [0.33, 0.24, 0.2, 0.3]}, "legend": null}
  }},
  {"mark": {"type": "line", "strokeWidth": 7}, "encoding": {
   "y": {"field": "v", "type": "quantitative"},
   "stroke": {"field": "g", "type": "nominal", "scale": {"domain": ["Hispanic", "Non-Hispanic Black", "Non-Hispanic White", "Total"], "range": ["#2a5555", "#ff8000", "#00ffff", "#848270"]}, "legend": null}
  }},
  {"mark": {"type": "point", "filled": true, "size": 540, "opacity": 1}, "encoding": {
   "y": {"field": "v", "type": "quantitative"},
   "color": {"field": "g", "type": "nominal", "scale": {"domain": ["Hispanic", "Non-Hispanic Black", "Non-Hispanic White", "Total"], "range": ["#2a5555", "#ff8000", "#00ffff", "#848270"]}, "legend": null}
  }}
 ]
},
{
 "width": 1604, "height": 1020,
 "title": {"text": "C\u00a0\u00a0\u00a0Death of father due to firearms", "dx": -157, "offset": 50},
 "transform": [{"filter": "datum.p == 'C'"}],
 "encoding": {"x": {"field": "x", "type": "quantitative", "scale": {"domain": [1999, 2020], "nice": false, "zero": false}, "axis": {"values": [2000, 2005, 2010, 2015, 2020], "format": "d", "grid": false, "title": "Year", "titleFontSize": 52, "titlePadding": 32}}},
 "layer": [
  {"mark": {"type": "area"}, "encoding": {
   "y": {"field": "lo", "type": "quantitative", "scale": {"domain": [0, 1.2], "nice": false}, "axis": {"values": [0, 0.3, 0.6, 0.9, 1.2], "labelExpr": "datum.value == 0 ? '0' : datum.value < 0.45 ? '0.2' : datum.value < 0.75 ? '0.5' : datum.value < 1.05 ? '0.8' : '1.2'", "labelPadding": 10, "title": "Youth affected per 1000 population", "titleFont": "DejaVu Sans", "titleFontSize": 45, "titlePadding": 30, "grid": true}},
   "y2": {"field": "hi"},
   "fill": {"field": "g", "type": "nominal", "scale": {"domain": ["Hispanic", "Non-Hispanic Black", "Non-Hispanic White", "Total"], "range": ["#2a5555", "#ff8000", "#00ffff", "#848270"]}, "legend": null},
   "opacity": {"field": "g", "type": "nominal", "scale": {"domain": ["Hispanic", "Non-Hispanic Black", "Non-Hispanic White", "Total"], "range": [0.33, 0.24, 0.2, 0.3]}, "legend": null}
  }},
  {"mark": {"type": "line", "strokeWidth": 7}, "encoding": {
   "y": {"field": "v", "type": "quantitative"},
   "stroke": {"field": "g", "type": "nominal", "scale": {"domain": ["Hispanic", "Non-Hispanic Black", "Non-Hispanic White", "Total"], "range": ["#2a5555", "#ff8000", "#00ffff", "#848270"]}, "legend": null}
  }},
  {"mark": {"type": "point", "filled": true, "size": 540, "opacity": 1}, "encoding": {
   "y": {"field": "v", "type": "quantitative"},
   "color": {"field": "g", "type": "nominal", "scale": {"domain": ["Hispanic", "Non-Hispanic Black", "Non-Hispanic White", "Total"], "range": ["#2a5555", "#ff8000", "#00ffff", "#848270"]}, "legend": null}
  }}
 ]
},
{
 "width": 1604, "height": 1020,
 "title": {"text": "D\u00a0\u00a0\u00a0Death of mother due to firearms", "dx": -157, "offset": 50},
 "transform": [{"filter": "datum.p == 'D'"}],
 "encoding": {"x": {"field": "x", "type": "quantitative", "scale": {"domain": [1999, 2020], "nice": false, "zero": false}, "axis": {"values": [2000, 2005, 2010, 2015, 2020], "format": "d", "grid": false, "title": "Year", "titleFontSize": 52, "titlePadding": 32}}},
 "layer": [
  {"mark": {"type": "area"}, "encoding": {
   "y": {"field": "lo", "type": "quantitative", "scale": {"domain": [0, 1.2], "nice": false}, "axis": {"values": [0, 0.3, 0.6, 0.9, 1.2], "labelExpr": "datum.value == 0 ? '0' : datum.value < 0.45 ? '0.2' : datum.value < 0.75 ? '0.5' : datum.value < 1.05 ? '0.8' : '1.2'", "labelPadding": 10, "title": "Youth affected per 1000 population", "titleFont": "DejaVu Sans", "titleFontSize": 45, "titlePadding": 30, "grid": true}},
   "y2": {"field": "hi"},
   "fill": {"field": "g", "type": "nominal", "scale": {"domain": ["Hispanic", "Non-Hispanic Black", "Non-Hispanic White", "Total"], "range": ["#2a5555", "#ff8000", "#00ffff", "#848270"]}, "legend": null},
   "opacity": {"field": "g", "type": "nominal", "scale": {"domain": ["Hispanic", "Non-Hispanic Black", "Non-Hispanic White", "Total"], "range": [0.33, 0.24, 0.2, 0.3]}, "legend": null}
  }},
  {"mark": {"type": "line", "strokeWidth": 7}, "encoding": {
   "y": {"field": "v", "type": "quantitative"},
   "stroke": {"field": "g", "type": "nominal", "scale": {"domain": ["Hispanic", "Non-Hispanic Black", "Non-Hispanic White", "Total"], "range": ["#2a5555", "#ff8000", "#00ffff", "#848270"]}, "legend": null}
  }},
  {"mark": {"type": "point", "filled": true, "size": 540, "opacity": 1}, "encoding": {
   "y": {"field": "v", "type": "quantitative"},
   "color": {"field": "g", "type": "nominal", "scale": {"domain": ["Hispanic", "Non-Hispanic Black", "Non-Hispanic White", "Total"], "range": ["#2a5555", "#ff8000", "#00ffff", "#848270"]}, "legend": null}
  }}
 ]
}
]
}
